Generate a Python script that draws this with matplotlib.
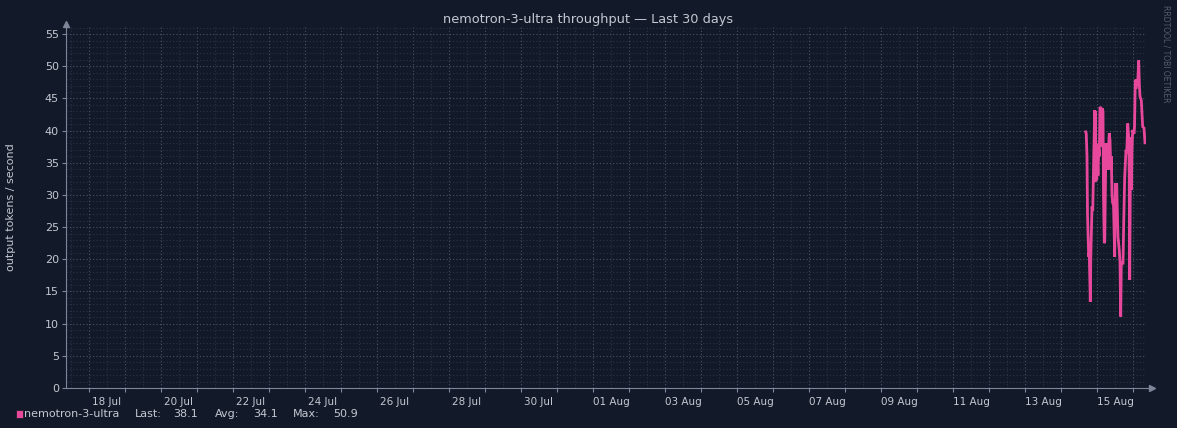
import pandas as pd
import matplotlib
matplotlib.use("Agg")
import matplotlib.pyplot as plt
import matplotlib.dates as mdates
from matplotlib.patches import Rectangle

# data
times = [
    "2025-08-14 16:28", "2025-08-14 16:50", "2025-08-14 17:20", "2025-08-14 17:40",
    "2025-08-14 18:28", "2025-08-14 18:50", "2025-08-14 19:32", "2025-08-14 19:50",
    "2025-08-14 20:40", "2025-08-14 21:10", "2025-08-14 21:50", "2025-08-14 22:28",
    "2025-08-14 22:40", "2025-08-14 22:52", "2025-08-14 23:10", "2025-08-14 23:30",
    "2025-08-14 23:48", "2025-08-15 00:12", "2025-08-15 00:40", "2025-08-15 01:08",
    "2025-08-15 01:30", "2025-08-15 02:00", "2025-08-15 02:25", "2025-08-15 02:52",
    "2025-08-15 03:20", "2025-08-15 04:00", "2025-08-15 04:20", "2025-08-15 04:52",
    "2025-08-15 05:10", "2025-08-15 05:32", "2025-08-15 06:00", "2025-08-15 06:30",
    "2025-08-15 07:00", "2025-08-15 07:20", "2025-08-15 07:50", "2025-08-15 08:12",
    "2025-08-15 08:40", "2025-08-15 09:10", "2025-08-15 09:32", "2025-08-15 10:00",
    "2025-08-15 10:28", "2025-08-15 11:00", "2025-08-15 11:48", "2025-08-15 12:12",
    "2025-08-15 12:40", "2025-08-15 13:08", "2025-08-15 13:30", "2025-08-15 14:00",
    "2025-08-15 14:52", "2025-08-15 15:20", "2025-08-15 15:48", "2025-08-15 16:12",
    "2025-08-15 17:20", "2025-08-15 17:50", "2025-08-15 18:28", "2025-08-15 19:20",
    "2025-08-15 19:50", "2025-08-15 20:28", "2025-08-15 21:08", "2025-08-15 21:30",
    "2025-08-15 21:48", "2025-08-15 22:10", "2025-08-15 22:28", "2025-08-15 22:52",
    "2025-08-15 23:20", "2025-08-15 23:48", "2025-08-16 00:40", "2025-08-16 01:00",
    "2025-08-16 01:32", "2025-08-16 02:00", "2025-08-16 02:28", "2025-08-16 03:00",
    "2025-08-16 03:20", "2025-08-16 03:48", "2025-08-16 04:15", "2025-08-16 04:40",
    "2025-08-16 05:32", "2025-08-16 06:28", "2025-08-16 07:20", "2025-08-16 08:00",
]
values = [
    39.8, 39.5, 36.0, 27.0,
    20.4, 21.0, 13.4, 20.0,
    28.2, 27.5, 36.0, 43.2,
    32.0, 43.0, 36.5, 38.0,
    32.3, 36.0, 33.0, 37.0,
    36.0, 43.7, 43.5, 37.5,
    43.5, 43.0, 30.0, 22.5,
    23.0, 30.0, 38.0, 34.0,
    36.0, 33.9, 38.0, 39.6,
    38.5, 34.0, 36.0, 30.0,
    28.7, 28.5, 20.4, 31.8,
    30.0, 31.8, 28.0, 23.5,
    21.4, 19.5, 11.1, 19.4,
    19.4, 26.0, 32.8, 37.0,
    36.5, 41.1, 39.0, 33.0,
    16.8, 30.0, 39.0, 30.8,
    37.0, 40.1, 39.5, 40.5,
    47.9, 46.5, 48.0, 47.0,
    48.5, 50.9, 47.0, 45.3,
    44.7, 40.6, 40.4, 38.1,
]
series_name = "nemotron-3-ultra"
legend_stats = [("Last:", "38.1"), ("Avg:", "34.1"), ("Max:", "50.9")]

start = pd.Timestamp("2025-07-17 08:40")
end = pd.Timestamp("2025-08-16 08:40")

bg = "#121a29"
grid_major = "#4a5366"
grid_minor = "#2b3446"
axis_c = "#7d8699"
text_c = "#c3c8d2"
pink = "#e8489c"

W, H = 1177, 428
fig = plt.figure(figsize=(W / 100, H / 100), dpi=100, facecolor=bg)
ax = fig.add_axes([66 / W, (H - 388) / H, 1080 / W, 361 / H], facecolor=bg)

t = pd.to_datetime(times)
ax.plot(t, values, color=pink, lw=2.0, solid_joinstyle="miter")

ax.set_xlim(start, end)
ax.set_ylim(0, 56.1)

# x grid: midnight major ticks, noon minor
ax.xaxis.set_major_locator(mdates.DayLocator())
ax.xaxis.set_minor_locator(mdates.HourLocator(byhour=[12]))
ax.xaxis.set_major_formatter(plt.NullFormatter())
ax.tick_params(axis="x", which="major", length=3, color=axis_c, direction="out")
ax.tick_params(axis="x", which="minor", length=0)

ax.yaxis.set_major_locator(plt.MultipleLocator(5))
ax.yaxis.set_minor_locator(plt.MultipleLocator(1))
ax.tick_params(axis="y", which="major", length=3, color=axis_c, labelcolor=text_c,
               labelsize=8, pad=2)
ax.tick_params(axis="y", which="minor", length=0)

ax.grid(True, which="major", color=grid_major, lw=0.8, linestyle=(0, (1, 2)))
ax.grid(True, which="minor", color=grid_minor, lw=0.8, linestyle=(0, (1, 2)))
ax.set_axisbelow(True)

for s in ["top", "right"]:
    ax.spines[s].set_visible(False)
for s in ["left", "bottom"]:
    ax.spines[s].set_color(axis_c)
    ax.spines[s].set_linewidth(0.8)

# axis arrows
ax.plot([1.0, 1.006], [0, 0], color=axis_c, lw=0.8, transform=ax.transAxes, clip_on=False)
ax.plot([1.006], [0], marker=">", ms=4, color=axis_c, transform=ax.transAxes, clip_on=False)
ax.plot([0, 0], [1.0, 1.008], color=axis_c, lw=0.8, transform=ax.transAxes, clip_on=False)
ax.plot([0], [1.008], marker="^", ms=4, color=axis_c, transform=ax.transAxes, clip_on=False)

# day labels centred at noon every two days
for d in pd.date_range("2025-07-18 12:00", "2025-08-15 12:00", freq="2D"):
    ax.text(d, -0.025, d.strftime("%d %b"), transform=ax.get_xaxis_transform(),
            ha="center", va="top", fontsize=7.5, color=text_c)

fig.text(588 / W, 1 - 19 / H, "nemotron-3-ultra throughput \u2014 Last 30 days",
         ha="center", va="center", fontsize=9.3, color=text_c)
fig.text(11 / W, 1 - 207 / H, "output tokens / second", rotation=90,
         ha="center", va="center", fontsize=8, color=text_c)
fig.text(1166 / W, 1 - 5 / H, "RRDTOOL / TOBI OETIKER", rotation=270,
         ha="center", va="top", fontsize=5.5, color="#555d70")

# legend row
ly = 1 - 414 / H
fig.patches.append(Rectangle((16 / W, 1 - 418 / H), 7 / W, 8 / H, transform=fig.transFigure,
                             facecolor=pink, edgecolor="#1e1e2a", lw=0.6))
fig.text(24 / W, ly, series_name, ha="left", va="center", fontsize=8, color=text_c)
for (lab, val), lx, vx in zip(legend_stats, [135, 215, 293], [198, 278, 358]):
    fig.text(lx / W, ly, lab, ha="left", va="center", fontsize=8, color=text_c)
    fig.text(vx / W, ly, val, ha="right", va="center", fontsize=8, color=text_c)

fig.savefig("out.png", dpi=100, facecolor=bg)
